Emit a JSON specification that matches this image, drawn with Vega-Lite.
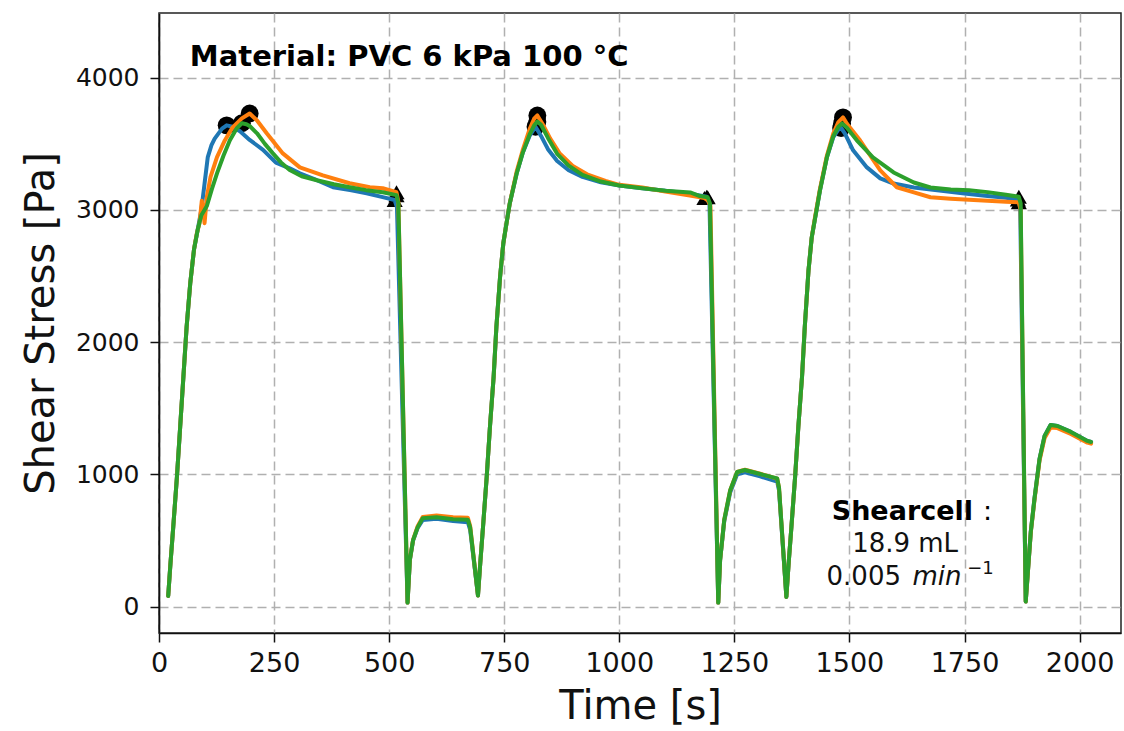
{
"$schema": "https://vega.github.io/schema/vega-lite/v6.json",
"width": 962, "height": 620,
"autosize": {"type": "none"},
"padding": {"left": 159, "top": 13, "right": 3, "bottom": 98},
"background": "white",
"config": {
  "font": "DejaVu Sans",
  "view": {"stroke": "#222", "strokeWidth": 1.5},
  "axis": {"domainColor": "#111", "domainWidth": 1.6, "tickColor": "#111", "tickWidth": 1.5, "tickSize": 9,
    "labelColor": "#111", "titleColor": "#111", "titleFontWeight": "normal", "grid": true, "gridColor": "#b0b0b0",
    "gridDash": [9, 5], "gridWidth": 1.5, "labelFont": "DejaVu Sans", "titleFont": "DejaVu Sans", "format": "d"}
},
"datasets": {
"peaks": [
{"r":"A","t":147,"s":3640},{"r":"A","t":818,"s":3630},{"r":"A","t":1482,"s":3620},
{"r":"B","t":197,"s":3730},{"r":"B","t":822,"s":3715},{"r":"B","t":1486,"s":3700},
{"r":"C","t":180,"s":3656},{"r":"C","t":822,"s":3668},{"r":"C","t":1484,"s":3655}],
"ends": [
{"r":"A","t":512,"s":3075},{"r":"A","t":1190,"s":3100},{"r":"A","t":1866,"s":3080},
{"r":"B","t":516,"s":3134},{"r":"B","t":1185,"s":3090},{"r":"B","t":1868,"s":3058},
{"r":"C","t":516,"s":3112},{"r":"C","t":1192,"s":3096},{"r":"C","t":1868,"s":3100}],
"notes": [{"id":"title","label":"Material: PVC 6 kPa 100 °C"},{"id":"cell","label":"Shearcell"},{"id":"colon","label":":"},{"id":"vol","label":"18.9 mL"},{"id":"num","label":"0.005"},{"id":"unit","label":"min"},{"id":"exp","label":"−1"}],
"curves": [
{"r":"A","t":20,"s":80},{"r":"A","t":25,"s":330},{"r":"A","t":31,"s":605},{"r":"A","t":39,"s":983},{"r":"A","t":46,"s":1360},{"r":"A","t":53,"s":1738},{"r":"A","t":60,"s":2116},{"r":"A","t":68,"s":2450},{"r":"A","t":76,"s":2700},{"r":"A","t":84,"s":2850},{"r":"A","t":92,"s":3000},{"r":"A","t":99,"s":3200},{"r":"A","t":106,"s":3400},{"r":"A","t":114,"s":3490},{"r":"A","t":121,"s":3540},{"r":"A","t":137,"s":3615},{"r":"A","t":147,"s":3640},{"r":"A","t":160,"s":3630},{"r":"A","t":176,"s":3595},{"r":"A","t":197,"s":3530},{"r":"A","t":226,"s":3455},{"r":"A","t":254,"s":3358},{"r":"A","t":284,"s":3315},{"r":"A","t":306,"s":3277},{"r":"A","t":343,"s":3225},{"r":"A","t":378,"s":3172},{"r":"A","t":415,"s":3150},{"r":"A","t":451,"s":3127},{"r":"A","t":486,"s":3097},{"r":"A","t":512,"s":3075},{"r":"A","t":517,"s":3020},{"r":"A","t":540,"s":30},{"r":"A","t":545,"s":352},{"r":"A","t":552,"s":500},{"r":"A","t":562,"s":595},{"r":"A","t":573,"s":655},{"r":"A","t":603,"s":665},{"r":"A","t":639,"s":648},{"r":"A","t":671,"s":638},{"r":"A","t":676,"s":580},{"r":"A","t":693,"s":83},{"r":"A","t":698,"s":330},{"r":"A","t":704,"s":605},{"r":"A","t":712,"s":983},{"r":"A","t":719,"s":1360},{"r":"A","t":727,"s":1738},{"r":"A","t":733,"s":2116},{"r":"A","t":741,"s":2494},{"r":"A","t":748,"s":2747},{"r":"A","t":755,"s":2900},{"r":"A","t":762,"s":3049},{"r":"A","t":777,"s":3276},{"r":"A","t":790,"s":3430},{"r":"A","t":805,"s":3560},{"r":"A","t":818,"s":3630},{"r":"A","t":830,"s":3560},{"r":"A","t":845,"s":3460},{"r":"A","t":865,"s":3370},{"r":"A","t":890,"s":3300},{"r":"A","t":920,"s":3250},{"r":"A","t":960,"s":3210},{"r":"A","t":1000,"s":3185},{"r":"A","t":1050,"s":3165},{"r":"A","t":1100,"s":3145},{"r":"A","t":1150,"s":3125},{"r":"A","t":1190,"s":3100},{"r":"A","t":1196,"s":3040},{"r":"A","t":1215,"s":30},{"r":"A","t":1219,"s":350},{"r":"A","t":1228,"s":645},{"r":"A","t":1241,"s":865},{"r":"A","t":1256,"s":1000},{"r":"A","t":1273,"s":1015},{"r":"A","t":1306,"s":985},{"r":"A","t":1343,"s":945},{"r":"A","t":1347,"s":880},{"r":"A","t":1363,"s":73},{"r":"A","t":1368,"s":330},{"r":"A","t":1374,"s":605},{"r":"A","t":1382,"s":983},{"r":"A","t":1389,"s":1360},{"r":"A","t":1397,"s":1738},{"r":"A","t":1403,"s":2116},{"r":"A","t":1411,"s":2540},{"r":"A","t":1418,"s":2790},{"r":"A","t":1425,"s":2930},{"r":"A","t":1436,"s":3148},{"r":"A","t":1451,"s":3398},{"r":"A","t":1465,"s":3550},{"r":"A","t":1476,"s":3610},{"r":"A","t":1482,"s":3620},{"r":"A","t":1490,"s":3580},{"r":"A","t":1508,"s":3451},{"r":"A","t":1538,"s":3322},{"r":"A","t":1567,"s":3239},{"r":"A","t":1596,"s":3200},{"r":"A","t":1640,"s":3170},{"r":"A","t":1700,"s":3145},{"r":"A","t":1750,"s":3125},{"r":"A","t":1800,"s":3105},{"r":"A","t":1840,"s":3092},{"r":"A","t":1866,"s":3080},{"r":"A","t":1871,"s":3020},{"r":"A","t":1883,"s":38},{"r":"A","t":1894,"s":566},{"r":"A","t":1902,"s":815},{"r":"A","t":1913,"s":1117},{"r":"A","t":1924,"s":1291},{"r":"A","t":1937,"s":1373},{"r":"A","t":1952,"s":1366},{"r":"A","t":1981,"s":1321},{"r":"A","t":2017,"s":1253},{"r":"A","t":2025,"s":1245},
{"r":"B","t":20,"s":80},{"r":"B","t":25,"s":330},{"r":"B","t":31,"s":605},{"r":"B","t":39,"s":983},{"r":"B","t":46,"s":1360},{"r":"B","t":53,"s":1738},{"r":"B","t":60,"s":2116},{"r":"B","t":68,"s":2450},{"r":"B","t":76,"s":2700},{"r":"B","t":82,"s":2820},{"r":"B","t":88,"s":2900},{"r":"B","t":93,"s":3070},{"r":"B","t":96,"s":3000},{"r":"B","t":99,"s":2900},{"r":"B","t":104,"s":3100},{"r":"B","t":112,"s":3250},{"r":"B","t":126,"s":3400},{"r":"B","t":143,"s":3526},{"r":"B","t":160,"s":3625},{"r":"B","t":180,"s":3693},{"r":"B","t":197,"s":3730},{"r":"B","t":213,"s":3677},{"r":"B","t":234,"s":3580},{"r":"B","t":269,"s":3428},{"r":"B","t":306,"s":3322},{"r":"B","t":356,"s":3262},{"r":"B","t":414,"s":3202},{"r":"B","t":458,"s":3172},{"r":"B","t":486,"s":3164},{"r":"B","t":516,"s":3134},{"r":"B","t":520,"s":3060},{"r":"B","t":540,"s":30},{"r":"B","t":545,"s":352},{"r":"B","t":552,"s":505},{"r":"B","t":562,"s":608},{"r":"B","t":573,"s":678},{"r":"B","t":603,"s":688},{"r":"B","t":639,"s":675},{"r":"B","t":671,"s":672},{"r":"B","t":676,"s":610},{"r":"B","t":693,"s":83},{"r":"B","t":698,"s":330},{"r":"B","t":704,"s":605},{"r":"B","t":712,"s":983},{"r":"B","t":719,"s":1360},{"r":"B","t":727,"s":1738},{"r":"B","t":733,"s":2116},{"r":"B","t":741,"s":2494},{"r":"B","t":748,"s":2747},{"r":"B","t":755,"s":2900},{"r":"B","t":762,"s":3049},{"r":"B","t":777,"s":3290},{"r":"B","t":790,"s":3450},{"r":"B","t":805,"s":3610},{"r":"B","t":815,"s":3690},{"r":"B","t":822,"s":3715},{"r":"B","t":835,"s":3640},{"r":"B","t":850,"s":3540},{"r":"B","t":870,"s":3430},{"r":"B","t":900,"s":3330},{"r":"B","t":930,"s":3270},{"r":"B","t":970,"s":3220},{"r":"B","t":1000,"s":3190},{"r":"B","t":1050,"s":3170},{"r":"B","t":1100,"s":3140},{"r":"B","t":1150,"s":3112},{"r":"B","t":1185,"s":3090},{"r":"B","t":1193,"s":3070},{"r":"B","t":1198,"s":3030},{"r":"B","t":1215,"s":30},{"r":"B","t":1219,"s":350},{"r":"B","t":1228,"s":655},{"r":"B","t":1241,"s":880},{"r":"B","t":1256,"s":1018},{"r":"B","t":1273,"s":1035},{"r":"B","t":1306,"s":1005},{"r":"B","t":1343,"s":968},{"r":"B","t":1347,"s":900},{"r":"B","t":1363,"s":73},{"r":"B","t":1368,"s":330},{"r":"B","t":1374,"s":605},{"r":"B","t":1382,"s":983},{"r":"B","t":1389,"s":1360},{"r":"B","t":1397,"s":1738},{"r":"B","t":1403,"s":2116},{"r":"B","t":1411,"s":2540},{"r":"B","t":1418,"s":2790},{"r":"B","t":1425,"s":2940},{"r":"B","t":1436,"s":3160},{"r":"B","t":1451,"s":3410},{"r":"B","t":1465,"s":3580},{"r":"B","t":1476,"s":3665},{"r":"B","t":1486,"s":3700},{"r":"B","t":1495,"s":3650},{"r":"B","t":1523,"s":3527},{"r":"B","t":1567,"s":3299},{"r":"B","t":1603,"s":3172},{"r":"B","t":1640,"s":3133},{"r":"B","t":1676,"s":3096},{"r":"B","t":1720,"s":3085},{"r":"B","t":1760,"s":3078},{"r":"B","t":1800,"s":3070},{"r":"B","t":1840,"s":3062},{"r":"B","t":1868,"s":3058},{"r":"B","t":1872,"s":3000},{"r":"B","t":1883,"s":38},{"r":"B","t":1894,"s":560},{"r":"B","t":1902,"s":805},{"r":"B","t":1913,"s":1105},{"r":"B","t":1924,"s":1275},{"r":"B","t":1937,"s":1355},{"r":"B","t":1952,"s":1350},{"r":"B","t":1981,"s":1305},{"r":"B","t":2017,"s":1240},{"r":"B","t":2025,"s":1232},
{"r":"C","t":20,"s":80},{"r":"C","t":25,"s":330},{"r":"C","t":31,"s":605},{"r":"C","t":39,"s":983},{"r":"C","t":46,"s":1360},{"r":"C","t":53,"s":1738},{"r":"C","t":60,"s":2116},{"r":"C","t":68,"s":2450},{"r":"C","t":76,"s":2700},{"r":"C","t":84,"s":2850},{"r":"C","t":92,"s":2960},{"r":"C","t":104,"s":3030},{"r":"C","t":115,"s":3160},{"r":"C","t":126,"s":3277},{"r":"C","t":140,"s":3410},{"r":"C","t":154,"s":3527},{"r":"C","t":169,"s":3618},{"r":"C","t":180,"s":3656},{"r":"C","t":190,"s":3648},{"r":"C","t":197,"s":3635},{"r":"C","t":213,"s":3580},{"r":"C","t":230,"s":3500},{"r":"C","t":247,"s":3430},{"r":"C","t":265,"s":3360},{"r":"C","t":284,"s":3302},{"r":"C","t":310,"s":3255},{"r":"C","t":343,"s":3225},{"r":"C","t":380,"s":3195},{"r":"C","t":414,"s":3172},{"r":"C","t":450,"s":3150},{"r":"C","t":486,"s":3134},{"r":"C","t":516,"s":3112},{"r":"C","t":520,"s":3050},{"r":"C","t":540,"s":30},{"r":"C","t":545,"s":352},{"r":"C","t":552,"s":503},{"r":"C","t":562,"s":601},{"r":"C","t":573,"s":669},{"r":"C","t":603,"s":676},{"r":"C","t":639,"s":661},{"r":"C","t":671,"s":656},{"r":"C","t":676,"s":600},{"r":"C","t":693,"s":83},{"r":"C","t":698,"s":330},{"r":"C","t":704,"s":605},{"r":"C","t":712,"s":983},{"r":"C","t":719,"s":1360},{"r":"C","t":727,"s":1738},{"r":"C","t":733,"s":2116},{"r":"C","t":741,"s":2494},{"r":"C","t":748,"s":2747},{"r":"C","t":755,"s":2900},{"r":"C","t":762,"s":3049},{"r":"C","t":777,"s":3276},{"r":"C","t":790,"s":3430},{"r":"C","t":805,"s":3570},{"r":"C","t":815,"s":3640},{"r":"C","t":822,"s":3668},{"r":"C","t":830,"s":3645},{"r":"C","t":845,"s":3545},{"r":"C","t":865,"s":3425},{"r":"C","t":890,"s":3335},{"r":"C","t":920,"s":3265},{"r":"C","t":960,"s":3215},{"r":"C","t":1000,"s":3185},{"r":"C","t":1050,"s":3165},{"r":"C","t":1100,"s":3145},{"r":"C","t":1154,"s":3133},{"r":"C","t":1175,"s":3105},{"r":"C","t":1192,"s":3096},{"r":"C","t":1197,"s":3050},{"r":"C","t":1215,"s":30},{"r":"C","t":1219,"s":350},{"r":"C","t":1228,"s":655},{"r":"C","t":1241,"s":880},{"r":"C","t":1256,"s":1018},{"r":"C","t":1273,"s":1033},{"r":"C","t":1306,"s":1003},{"r":"C","t":1343,"s":970},{"r":"C","t":1347,"s":900},{"r":"C","t":1363,"s":73},{"r":"C","t":1368,"s":330},{"r":"C","t":1374,"s":605},{"r":"C","t":1382,"s":983},{"r":"C","t":1389,"s":1360},{"r":"C","t":1397,"s":1738},{"r":"C","t":1403,"s":2116},{"r":"C","t":1411,"s":2540},{"r":"C","t":1418,"s":2790},{"r":"C","t":1425,"s":2930},{"r":"C","t":1436,"s":3148},{"r":"C","t":1451,"s":3398},{"r":"C","t":1465,"s":3560},{"r":"C","t":1476,"s":3630},{"r":"C","t":1484,"s":3655},{"r":"C","t":1495,"s":3620},{"r":"C","t":1516,"s":3527},{"r":"C","t":1551,"s":3398},{"r":"C","t":1596,"s":3284},{"r":"C","t":1640,"s":3208},{"r":"C","t":1676,"s":3170},{"r":"C","t":1720,"s":3155},{"r":"C","t":1760,"s":3150},{"r":"C","t":1800,"s":3135},{"r":"C","t":1840,"s":3115},{"r":"C","t":1868,"s":3100},{"r":"C","t":1872,"s":3050},{"r":"C","t":1883,"s":38},{"r":"C","t":1894,"s":566},{"r":"C","t":1902,"s":815},{"r":"C","t":1913,"s":1117},{"r":"C","t":1924,"s":1291},{"r":"C","t":1937,"s":1373},{"r":"C","t":1952,"s":1366},{"r":"C","t":1981,"s":1321},{"r":"C","t":2017,"s":1253},{"r":"C","t":2025,"s":1245}
]
},
"layer": [
  {"data": {"name": "peaks"}, "mark": {"type": "point", "shape": "circle", "filled": true, "color": "black", "size": 320, "opacity": 1},
    "encoding": {
      "x": {"field": "t", "type": "quantitative", "title": "Time [s]",
        "scale": {"domain": [0, 2090], "nice": false, "zero": false},
        "axis": {"values": [0, 250, 500, 750, 1000, 1250, 1500, 1750, 2000], "labelFontSize": 27, "titleFontSize": 40, "labelPadding": 8, "titlePadding": 10, "labelFlush": false}},
      "y": {"field": "s", "type": "quantitative", "title": "Shear Stress [Pa]",
        "scale": {"domain": [-200, 4490], "nice": false, "zero": false},
        "axis": {"values": [0, 1000, 2000, 3000, 4000], "labelFontSize": 25, "titleFontSize": 40, "labelPadding": 11, "titlePadding": 14}}}},
  {"data": {"name": "ends"}, "mark": {"type": "point", "shape": "triangle-up", "filled": true, "color": "black", "size": 260, "opacity": 1},
    "encoding": {"x": {"field": "t", "type": "quantitative"}, "y": {"field": "s", "type": "quantitative"}}},
  {"data": {"name": "curves"}, "mark": {"type": "line", "strokeWidth": 4, "strokeJoin": "round", "strokeCap": "round"},
    "encoding": {
      "x": {"field": "t", "type": "quantitative"},
      "y": {"field": "s", "type": "quantitative"},
      "color": {"field": "r", "type": "nominal", "legend": null, "scale": {"domain": ["A", "B", "C"], "range": ["#1f77b4", "#ff7f0e", "#2ca02c"]}}}},
  {"data": {"name": "notes"}, "transform": [{"filter": "datum.id == 'title'"}],
    "mark": {"type": "text", "fontWeight": "bold", "fontSize": 29, "align": "left", "baseline": "middle", "color": "#000"},
    "encoding": {"text": {"field": "label"}, "x": {"datum": 67}, "y": {"datum": 4155}}},
  {"data": {"name": "notes"}, "transform": [{"filter": "datum.id == 'cell'"}],
    "mark": {"type": "text", "fontWeight": "bold", "fontSize": 27, "align": "center", "baseline": "middle", "color": "#000"},
    "encoding": {"text": {"field": "label"}, "x": {"datum": 1615}, "y": {"datum": 712}}},
  {"data": {"name": "notes"}, "transform": [{"filter": "datum.id == 'colon'"}],
    "mark": {"type": "text", "fontSize": 27, "align": "center", "baseline": "middle", "color": "#000"},
    "encoding": {"text": {"field": "label"}, "x": {"datum": 1800}, "y": {"datum": 712}}},
  {"data": {"name": "notes"}, "transform": [{"filter": "datum.id == 'vol'"}],
    "mark": {"type": "text", "fontSize": 26, "align": "center", "baseline": "middle", "color": "#111"},
    "encoding": {"text": {"field": "label"}, "x": {"datum": 1621}, "y": {"datum": 476}}},
  {"data": {"name": "notes"}, "transform": [{"filter": "datum.id == 'num'"}],
    "mark": {"type": "text", "fontSize": 26, "align": "right", "baseline": "middle", "color": "#111"},
    "encoding": {"text": {"field": "label"}, "x": {"datum": 1612}, "y": {"datum": 226}}},
  {"data": {"name": "notes"}, "transform": [{"filter": "datum.id == 'unit'"}],
    "mark": {"type": "text", "fontStyle": "italic", "fontSize": 26, "align": "left", "baseline": "middle", "color": "#111"},
    "encoding": {"text": {"field": "label"}, "x": {"datum": 1637}, "y": {"datum": 226}}},
  {"data": {"name": "notes"}, "transform": [{"filter": "datum.id == 'exp'"}],
    "mark": {"type": "text", "fontSize": 18, "align": "left", "baseline": "middle", "color": "#111"},
    "encoding": {"text": {"field": "label"}, "x": {"datum": 1756}, "y": {"datum": 282}}}
]
}
